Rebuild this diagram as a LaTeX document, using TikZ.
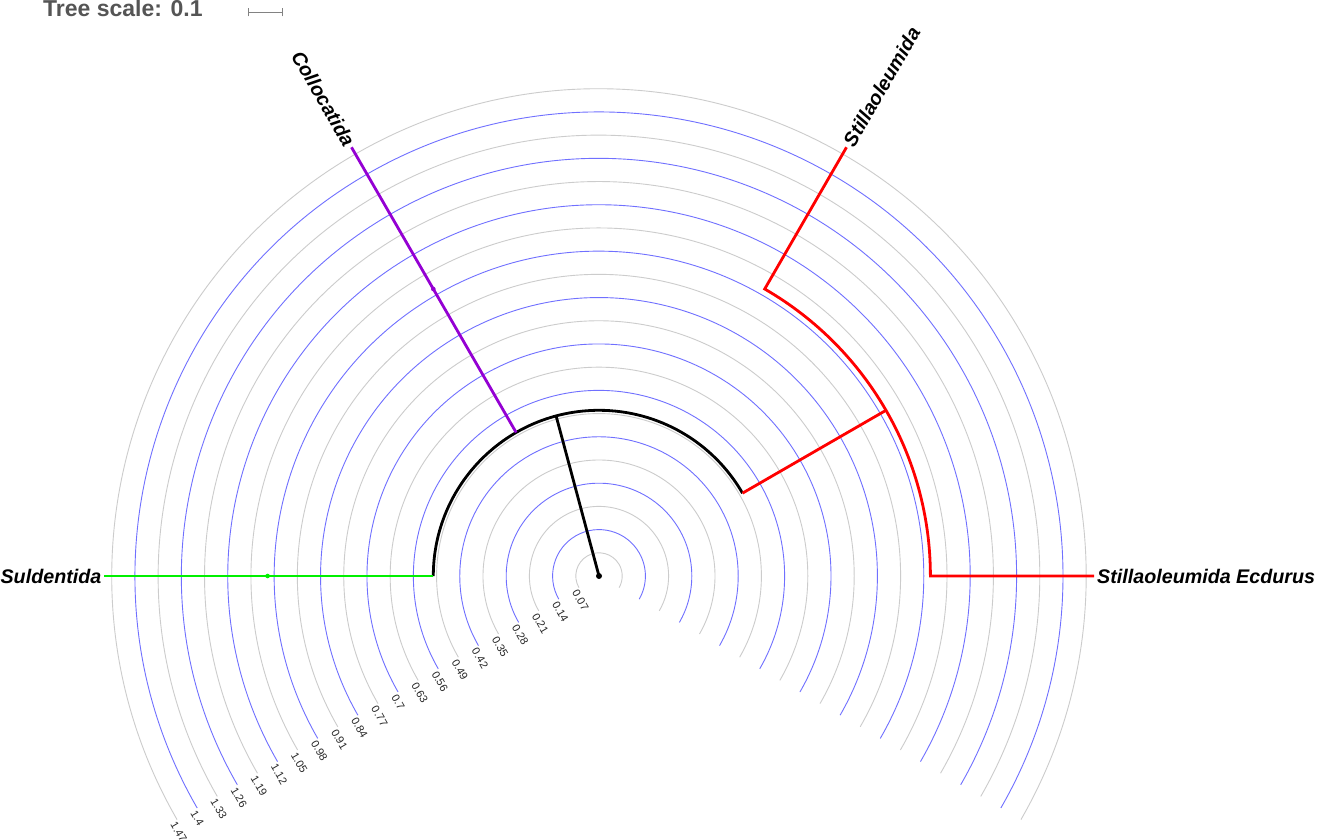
\documentclass[tikz,border=0pt]{standalone}
\usepackage{fontspec}
\setmainfont{Liberation Sans}
\definecolor{arcgray}{RGB}{204,204,204}
\definecolor{arcblue}{RGB}{112,112,255}
\definecolor{treegreen}{RGB}{0,240,0}
\definecolor{treepurple}{RGB}{148,0,211}
\definecolor{treered}{RGB}{255,0,0}
\definecolor{scalegray}{RGB}{85,85,85}
\definecolor{bargray}{RGB}{130,130,130}
\definecolor{labgray}{RGB}{40,40,40}
\tikzset{
  branch/.style={line width=2.8pt, line join=miter},
  ring/.style={line width=0.9pt},
  arclab/.style={font=\fontsize{11}{13}\selectfont, text=labgray, inner sep=0.8pt, rotate=-60, anchor=north west},
  leaflab/.style={font=\fontsize{19.7}{24}\selectfont\bfseries\itshape, inner sep=0pt},
  scalebar/.style={draw=bargray, line width=1pt}
}
\begin{document}
\begin{tikzpicture}[x=1pt,y=1pt]
\useasboundingbox (0,0) rectangle (1317,839);
\fill[white] (0,0) rectangle (1317,839);
\clip (0,0) rectangle (1317,839);
% tree scale
\node[anchor=base west, font=\fontsize{23}{27}\selectfont\bfseries, text=scalegray, inner sep=0pt] (ts) at (43,822.5) {Tree scale: 0.1};
\coordinate (sbL) at (248,826.7);
\coordinate (sbR) at (282,826.7);
\draw[scalebar] (sbL) -- (sbR);
\draw[scalebar] ([yshift=-4pt]sbL) -- ([yshift=4pt]sbL);
\draw[scalebar] ([yshift=-4pt]sbR) -- ([yshift=4pt]sbR);
\begin{scope}[shift={(599,263)}]
% rings
\foreach \k/\lab/\col in {1/0.07/arcgray,2/0.14/arcblue,3/0.21/arcgray,4/0.28/arcblue,5/0.35/arcgray,6/0.42/arcblue,7/0.49/arcgray,8/0.56/arcblue,9/0.63/arcgray,10/0.7/arcblue,11/0.77/arcgray,12/0.84/arcblue,13/0.91/arcgray,14/0.98/arcblue,15/1.05/arcgray,16/1.12/arcblue,17/1.19/arcgray,18/1.26/arcblue,19/1.33/arcgray,20/1.4/arcblue,21/1.47/arcgray}{
  \draw[ring, draw=\col] (210:\k*23.2) arc[start angle=210, end angle=-30, radius=\k*23.2];
  \node[arclab] (lab\k) at (210:\k*23.2) {\lab};
}
% tree
\coordinate (root) at (0,0);
\coordinate (A) at (105:165.7);
\coordinate (A180) at (180:165.7);
\coordinate (A120) at (120:165.7);
\coordinate (A30) at (30:165.7);
\coordinate (B) at (30:331.4);
\coordinate (B60) at (60:331.4);
\coordinate (B0) at (0:331.4);
\coordinate (Lsul) at (180:495);
\coordinate (Lcol) at (120:495);
\coordinate (Lsti) at (60:495);
\coordinate (Lecd) at (0:495);
\draw[branch, black] (root) -- (A);
\draw[branch, black] (A180) arc[start angle=180, end angle=30, radius=165.7];
\draw[branch, treegreen] (A180) -- (Lsul);
\draw[branch, treepurple] (A120) -- (Lcol);
\draw[branch, treered] (A30) -- (B);
\draw[branch, treered] (Lsti) -- (B60) arc[start angle=60, end angle=0, radius=331.4] -- (Lecd);
\fill[black] (root) circle (3pt);
\fill[treegreen] (180:331.4) circle (2.3pt);
\fill[treepurple] (120:331.4) circle (2.3pt);
% leaf labels
\node[leaflab, anchor=east] (tSul) at (180:497.5) {Suldentida};
\node[leaflab, rotate=-60, anchor=east] (tCol) at (120:498) {Collocatida};
\node[leaflab, rotate=60, anchor=west] (tSti) at (60:498) {Stillaoleumida};
\node[leaflab, anchor=west] (tEcd) at (0:498) {Stillaoleumida Ecdurus};
\end{scope}
\end{tikzpicture}
\end{document}
